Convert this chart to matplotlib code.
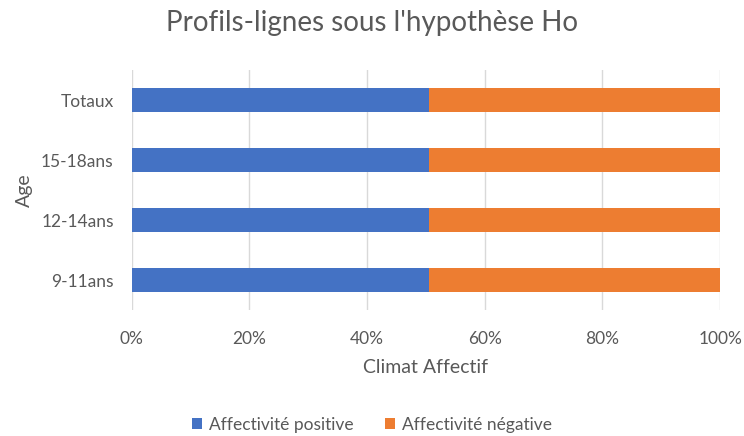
import matplotlib
matplotlib.use('Agg')
import matplotlib.pyplot as plt
from matplotlib.ticker import PercentFormatter

plt.rcParams['font.family'] = ['Lato', 'DejaVu Sans']

categories = ['9-11ans', '12-14ans', '15-18ans', 'Totaux']
positive = [0.505, 0.505, 0.505, 0.505]
negative = [0.495, 0.495, 0.495, 0.495]
series_names = ['Affectivité positive', 'Affectivité négative']
colors = ['#4472C4', '#ED7D31']
text_col = '#595959'

fig = plt.figure(figsize=(7.44, 4.36), dpi=100)
ax = fig.add_axes([0.177, 0.289, 0.791, 0.55])

y = range(len(categories))
ax.barh(y, positive, height=0.4, color=colors[0], label=series_names[0])
ax.barh(y, negative, left=positive, height=0.4, color=colors[1], label=series_names[1])

ax.set_xlim(0, 1)
ax.set_ylim(-0.5, len(categories) - 0.5)
ax.set_xticks([0, 0.2, 0.4, 0.6, 0.8, 1.0])
ax.xaxis.set_major_formatter(PercentFormatter(1.0, decimals=0))
ax.set_yticks(list(y))
ax.set_yticklabels(categories)
ax.grid(axis='x', color='#D9D9D9', linewidth=1)
ax.set_axisbelow(True)
for s in ax.spines.values():
    s.set_visible(False)
ax.tick_params(length=0, colors=text_col, labelsize=12.5)
ax.tick_params(axis='x', pad=15)
ax.tick_params(axis='y', pad=13)

ax.set_xlabel('Climat Affectif', color=text_col, fontsize=14, labelpad=9)
ax.set_ylabel('Age', color=text_col, fontsize=14, labelpad=6)
fig.text(0.5, 0.948, "Profils-lignes sous l'hypothèse Ho", ha='center', va='center',
         color=text_col, fontsize=20)

fig.legend(loc='center', bbox_to_anchor=(0.5, 0.025), ncol=2, frameon=False,
           fontsize=12.5, labelcolor=text_col, handlelength=0.6, handleheight=0.6,
           columnspacing=1.8, handletextpad=0.4)

fig.savefig('out.png', dpi=100)
